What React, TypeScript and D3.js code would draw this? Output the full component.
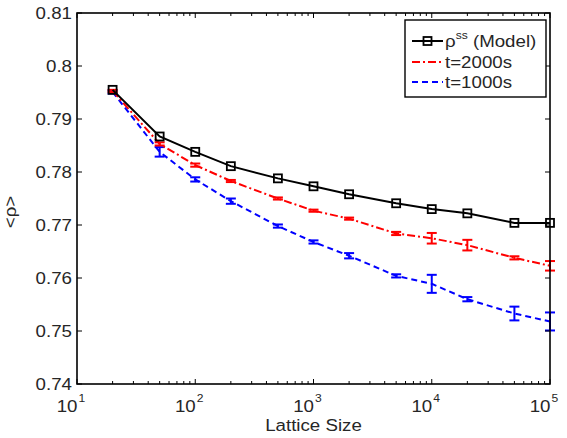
import React from "react";
import * as d3 from "d3";

const sizes = [20, 50, 100, 200, 500, 1000, 2000, 5000, 10000, 20000, 50000, 100000];
const modelVals = [0.7955, 0.7867, 0.7838, 0.7811, 0.7788, 0.7773, 0.7758, 0.7741, 0.773, 0.7722, 0.7704, 0.7704];
const t2000Vals = [0.7953, 0.7853, 0.7813, 0.7783, 0.775, 0.7727, 0.7712, 0.7684, 0.7675, 0.7662, 0.7638, 0.7623];
const t2000Err = [0.0002, 0.0003, 0.0003, 0.0002, 0.0002, 0.0002, 0.0002, 0.0003, 0.001, 0.001, 0.0003, 0.0009];
const t1000Vals = [0.7951, 0.7838, 0.7786, 0.7745, 0.7698, 0.7668, 0.7642, 0.7604, 0.7589, 0.756, 0.7533, 0.7518];
const t1000Err = [0.0003, 0.0009, 0.0004, 0.0005, 0.0003, 0.0003, 0.0005, 0.0003, 0.0017, 0.0004, 0.0013, 0.0017];
const yTicks = [0.74, 0.75, 0.76, 0.77, 0.78, 0.79, 0.8, 0.81];
const yTickLabels = ["0.74", "0.75", "0.76", "0.77", "0.78", "0.79", "0.8", "0.81"];
const xDecades = [1, 2, 3, 4, 5];
const legendLabels = ["(Model)", "t=2000s", "t=1000s"];

const W = 567, H = 438;
const L = 77, R = 550, T = 13, B = 384;
const FONT = "'Liberation Sans', Arial, Helvetica, sans-serif";
const SX = 1.1;
const TXT = "#262626";

function Txt(props: { x: number; y: number; anchor?: string; size?: number; rotate?: number; children: React.ReactNode }) {
  const { x, y, anchor = "start", size = 17, rotate = 0, children } = props;
  return (
    <text
      transform={`translate(${x},${y}) rotate(${rotate}) scale(${SX},1)`}
      textAnchor={anchor}
      fontFamily={FONT}
      fontSize={size}
      fill={TXT}
    >
      {children}
    </text>
  );
}

export default function App() {
  const x = d3.scaleLog().domain([10, 100000]).range([L, R]);
  const y = d3.scaleLinear().domain([0.74, 0.81]).range([B, T]);
  const line = d3.line<[number, number]>().x(d => x(d[0])).y(d => y(d[1]));
  const zip = (vals: number[]) => sizes.map((s, i) => [s, vals[i]] as [number, number]);

  const minor: number[] = [];
  for (let d = 1; d < 5; d++) for (let k = 2; k <= 9; k++) minor.push(k * Math.pow(10, d));

  const errBars = (vals: number[], errs: number[], color: string) =>
    sizes.map((s, i) => {
      const cx = x(s), y1 = y(vals[i] - errs[i]), y2 = y(vals[i] + errs[i]);
      return (
        <g key={i} stroke={color} strokeWidth={2}>
          <line x1={cx} x2={cx} y1={y1} y2={y2} />
          <line x1={cx - 5} x2={cx + 5} y1={y1} y2={y1} />
          <line x1={cx - 5} x2={cx + 5} y1={y2} y2={y2} />
        </g>
      );
    });

  return (
    <svg width={W} height={H} style={{ position: "absolute", left: 0, top: 0, background: "#fff" }}>
      <rect x={0} y={0} width={W} height={H} fill="#fff" />
      {/* series */}
      <path d={line(zip(t1000Vals)) || ""} fill="none" stroke="#0000ff" strokeWidth={2} strokeDasharray="6,4" />
      {errBars(t1000Vals, t1000Err, "#0000ff")}
      <path d={line(zip(t2000Vals)) || ""} fill="none" stroke="#ff0000" strokeWidth={2} strokeDasharray="8,3,2,3" />
      {errBars(t2000Vals, t2000Err, "#ff0000")}
      <path d={line(zip(modelVals)) || ""} fill="none" stroke="#000" strokeWidth={2} />
      {sizes.map((s, i) => (
        <rect key={i} x={x(s) - 4} y={y(modelVals[i]) - 4} width={8} height={8} fill="none" stroke="#000" strokeWidth={1.8} />
      ))}
      {/* axes box */}
      <rect x={L} y={T} width={R - L} height={B - T} fill="none" stroke="#000" strokeWidth={1.6} />
      {/* y ticks */}
      {yTicks.map((v, i) => (
        <g key={i}>
          <line x1={L} x2={L + 5} y1={y(v)} y2={y(v)} stroke="#000" />
          <line x1={R} x2={R - 5} y1={y(v)} y2={y(v)} stroke="#000" />
          <Txt x={L - 5} y={y(v) + 6} anchor="end">{yTickLabels[i]}</Txt>
        </g>
      ))}
      {/* x ticks */}
      {xDecades.map(d => {
        const v = Math.pow(10, d);
        return (
          <g key={d}>
            <line x1={x(v)} x2={x(v)} y1={B} y2={B - 5} stroke="#000" />
            <line x1={x(v)} x2={x(v)} y1={T} y2={T + 5} stroke="#000" />
            <Txt x={x(v) + 0.5} y={412} anchor="end">10</Txt>
            <Txt x={x(v) + 1.5} y={402} size={11}>{d}</Txt>
          </g>
        );
      })}
      {minor.map((v, i) => (
        <g key={i}>
          <line x1={x(v)} x2={x(v)} y1={B} y2={B - 3} stroke="#000" />
          <line x1={x(v)} x2={x(v)} y1={T} y2={T + 3} stroke="#000" />
        </g>
      ))}
      {/* axis labels */}
      <Txt x={(L + R) / 2} y={431} anchor="middle">Lattice Size</Txt>
      <Txt x={16} y={212} anchor="middle" rotate={-90}>&lt;ρ&gt;</Txt>
      {/* legend */}
      <rect x={405} y={20} width={141} height={77} fill="#fff" stroke="#000" strokeWidth={1.4} />
      <line x1={412} x2={443} y1={41} y2={41} stroke="#000" strokeWidth={2} />
      <rect x={423.5} y={37} width={8} height={8} fill="none" stroke="#000" strokeWidth={1.8} />
      <Txt x={445} y={47}>ρ<tspan fontSize={11} dy={-8}>ss</tspan><tspan dy={8}> {legendLabels[0]}</tspan></Txt>
      <line x1={412} x2={443} y1={62} y2={62} stroke="#ff0000" strokeWidth={2} strokeDasharray="8,3,2,3" />
      <Txt x={445} y={68}>{legendLabels[1]}</Txt>
      <line x1={412} x2={443} y1={82} y2={82} stroke="#0000ff" strokeWidth={2} strokeDasharray="6,4" />
      <Txt x={445} y={88}>{legendLabels[2]}</Txt>
    </svg>
  );
}
